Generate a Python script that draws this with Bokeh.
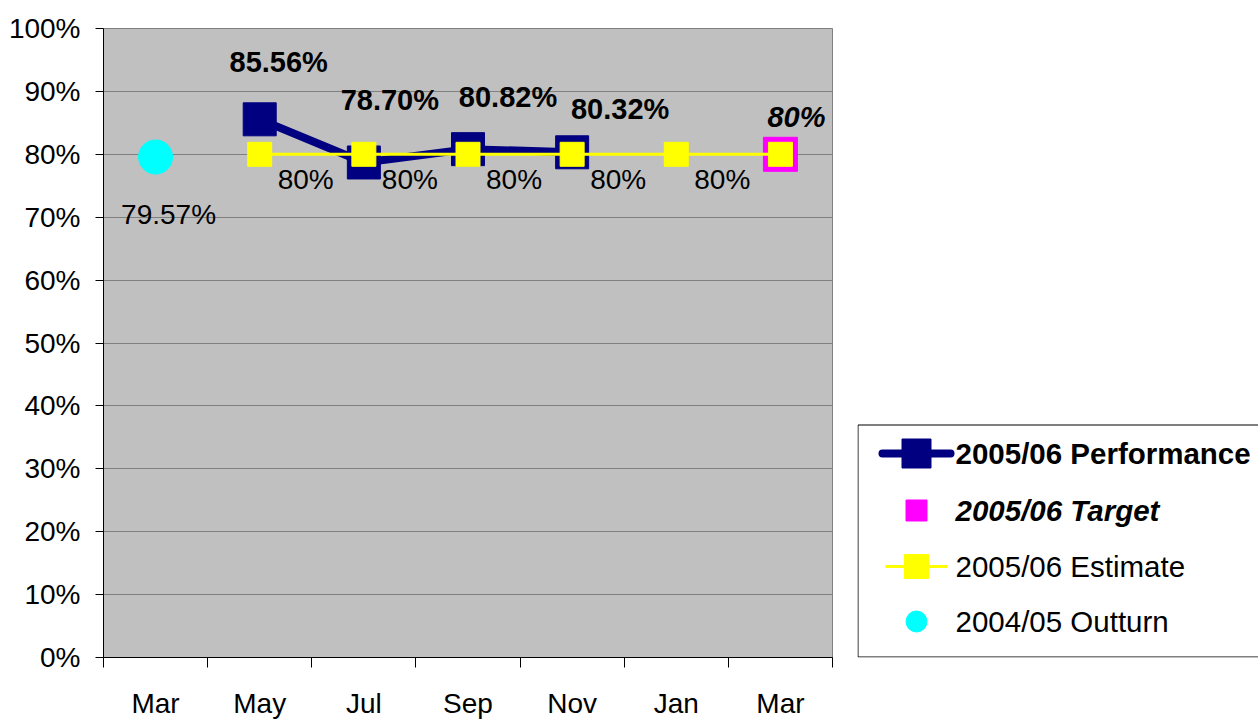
from bokeh.plotting import figure
from bokeh.models import ColumnDataSource, Range1d, FixedTicker
from bokeh.layouts import row
from bokeh.core.properties import value
from bokeh.embed import file_html
from bokeh.resources import INLINE

# ---------------- data ----------------
months = ["Mar", "May", "Jul", "Sep", "Nov", "Jan", "Mar"]
perf_idx = [1, 2, 3, 4]
perf_vals = [85.56, 78.70, 80.82, 80.32]
perf_labels = ["85.56%", "78.70%", "80.82%", "80.32%"]
est_idx = [1, 2, 3, 4, 5, 6]
est_vals = [80, 80, 80, 80, 80, 80]
est_labels = ["80%", "80%", "80%", "80%", "80%", ""]
target_idx = [6]
target_vals = [80]
target_labels = ["80%"]
outturn_idx = [0]
outturn_vals = [79.57]
outturn_labels = ["79.57%"]
y_ticks = [0, 10, 20, 30, 40, 50, 60, 70, 80, 90, 100]
legend_names = ["2005/06 Performance", "2005/06 Target", "2005/06 Estimate", "2004/05 Outturn"]

FONT = value("Liberation Sans")
NAVY = "#000080"
MAGENTA = "#FF00FF"
YELLOW = "#FFFF00"
CYAN = "#00FFFF"

centers = [i + 0.5 for i in range(len(months))]

p = figure(width=857, height=722, x_range=Range1d(0, len(months)), y_range=Range1d(0, 100),
           output_backend="svg", toolbar_location=None,
           min_border_left=103, min_border_right=25, min_border_top=28, min_border_bottom=65)
p.background_fill_color = "#C0C0C0"
p.border_fill_color = "white"
p.outline_line_color = "#808080"
p.outline_line_width = 1
p.xgrid.visible = False
p.ygrid.ticker = FixedTicker(ticks=y_ticks)
p.ygrid.grid_line_color = "#808080"
p.ygrid.grid_line_width = 1

# y axis
p.yaxis.ticker = FixedTicker(ticks=y_ticks)
p.yaxis.major_label_overrides = {t: f"{t}%" for t in y_ticks}
p.yaxis.major_label_text_font = "Liberation Sans"
p.yaxis.major_label_text_font_size = "28px"
p.yaxis.major_label_text_color = "black"
p.yaxis.major_tick_out = 8
p.yaxis.major_tick_in = 0
p.yaxis.minor_tick_line_color = None
p.yaxis.major_label_standoff = 15
p.yaxis.axis_line_color = "black"

# x axis
p.xaxis.ticker = FixedTicker(ticks=centers, minor_ticks=list(range(len(months) + 1)))
p.xaxis.major_label_overrides = {c: m for c, m in zip(centers, months)}
p.xaxis.major_label_text_font = "Liberation Sans"
p.xaxis.major_label_text_font_size = "28px"
p.xaxis.major_label_text_color = "black"
p.xaxis.major_tick_out = 0
p.xaxis.major_tick_in = 0
p.xaxis.minor_tick_out = 10
p.xaxis.minor_tick_in = 0
p.xaxis.minor_tick_line_color = "black"
p.xaxis.major_label_standoff = 20
p.xaxis.axis_line_color = "black"

# performance
perf_src = ColumnDataSource(dict(x=[centers[i] for i in perf_idx], y=perf_vals, t=perf_labels,
                                 dx=[19, 26, 40, 48], dy=[-57, -62, -52, -43]))
p.line("x", "y", source=perf_src, line_color=NAVY, line_width=8)
p.scatter("x", "y", source=perf_src, marker="square", size=33, fill_color=NAVY, line_color=NAVY)

# target
tgt_src = ColumnDataSource(dict(x=[centers[i] for i in target_idx], y=target_vals, t=target_labels))
p.scatter("x", "y", source=tgt_src, marker="square", size=34, fill_color=MAGENTA, line_color=MAGENTA)

# estimate
est_src = ColumnDataSource(dict(x=[centers[i] for i in est_idx], y=est_vals, t=est_labels))
p.line("x", "y", source=est_src, line_color=YELLOW, line_width=3)
p.scatter("x", "y", source=est_src, marker="square", size=24, fill_color=YELLOW, line_color=YELLOW)

# outturn
out_src = ColumnDataSource(dict(x=[centers[i] for i in outturn_idx], y=outturn_vals, t=outturn_labels))
p.scatter("x", "y", source=out_src, marker="circle", size=34, fill_color=CYAN, line_color=CYAN)

# labels
p.text("x", "y", text="t", source=perf_src, x_offset="dx", y_offset="dy",
       text_font=FONT, text_font_size="29px", text_font_style="bold",
       text_align="center", text_baseline="middle", text_color="black")
p.text("x", "y", text="t", source=est_src, x_offset=18, y_offset=25,
       text_font=FONT, text_font_size="28px", text_align="left", text_baseline="middle",
       text_color="black")
p.text("x", "y", text="t", source=tgt_src, x_offset=16, y_offset=-37,
       text_font=FONT, text_font_size="29px", text_font_style="bold italic",
       text_align="center", text_baseline="middle", text_color="black")
p.text("x", "y", text="t", source=out_src, x_offset=13, y_offset=57,
       text_font=FONT, text_font_size="28px", text_align="center", text_baseline="middle",
       text_color="black")

# ---------------- legend panel (page-pixel coordinates) ----------------
lg = figure(width=401, height=722, x_range=Range1d(857, 1258), y_range=Range1d(657, 28),
            output_backend="svg", toolbar_location=None,
            x_axis_location=None, y_axis_location=None,
            min_border_left=0, min_border_right=0, min_border_top=28, min_border_bottom=65)
lg.background_fill_color = "white"
lg.border_fill_color = "white"
lg.outline_line_color = None
lg.grid.visible = False

lg.quad(left=[857.5], right=[1270], top=[424.5], bottom=[656.5],
        fill_color="white", line_color="black", line_width=1)

rows_y = [453, 510, 566, 621]
lg.segment(x0=[882], y0=[rows_y[0]], x1=[950], y1=[rows_y[0]], line_color=NAVY, line_width=8, line_cap="round")
lg.segment(x0=[885], y0=[rows_y[2]], x1=[947], y1=[rows_y[2]], line_color=YELLOW, line_width=3)
key_src = ColumnDataSource(dict(
    x=[916, 916, 916, 916], y=rows_y,
    m=["square", "square", "square", "circle"],
    s=[29, 21, 24, 21],
    c=[NAVY, MAGENTA, YELLOW, CYAN]))
lg.scatter("x", "y", source=key_src, marker="m", size="s", fill_color="c", line_color="c")
lbl_src = ColumnDataSource(dict(x=[955] * 4, y=rows_y, t=legend_names,
                                st=["bold", "bold italic", "normal", "normal"]))
lg.text("x", "y", text="t", source=lbl_src, text_font=FONT, text_font_size="29.5px",
        text_font_style="st", text_align="left", text_baseline="middle", text_color="black")

layout = row(p, lg, spacing=0)
open("out.html", "w").write(file_html(layout, INLINE))
